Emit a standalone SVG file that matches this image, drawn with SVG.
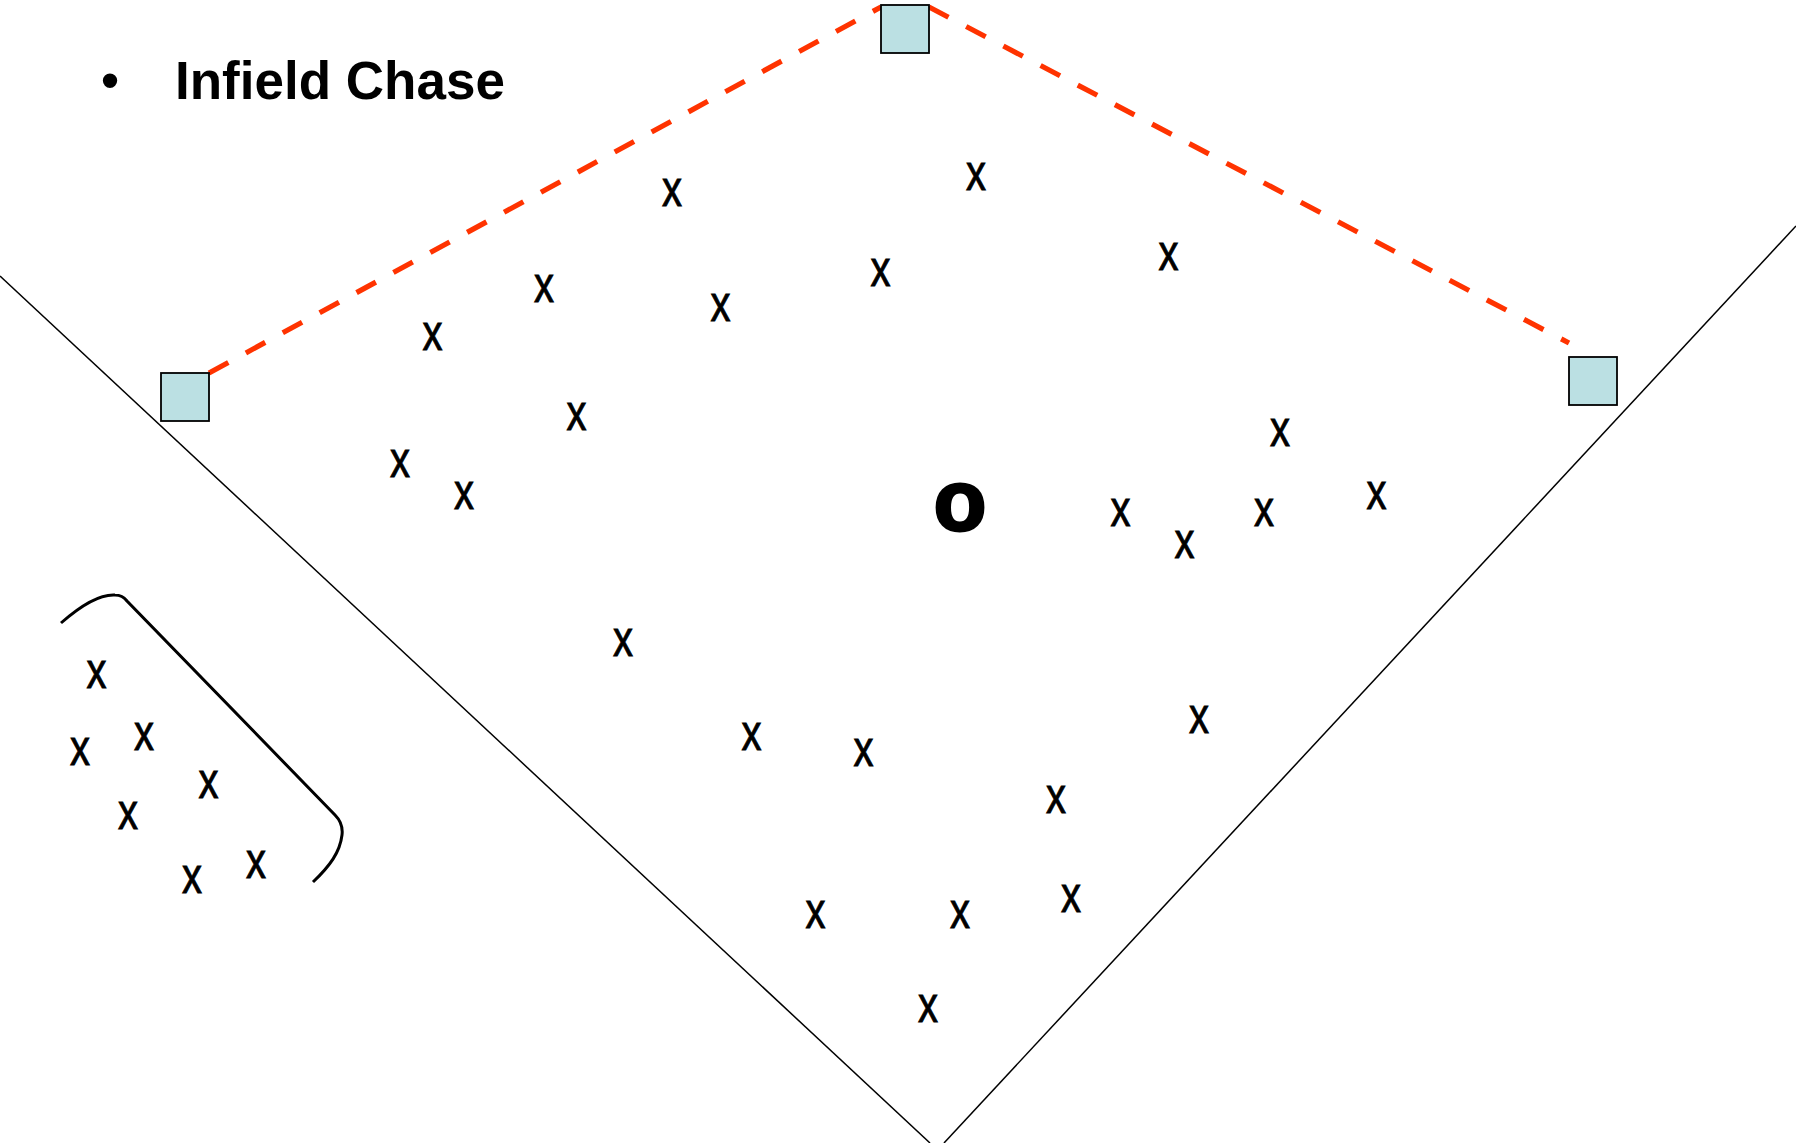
<svg xmlns="http://www.w3.org/2000/svg" width="1796" height="1143" viewBox="0 0 1796 1143">
<style>
.bg{fill:#FFFFFF}
.foul{stroke:#000000;stroke-width:1.5;fill:none}
.bracket{stroke:#000000;stroke-width:3;fill:none;stroke-linecap:butt}
.base{fill:#BBE0E3;stroke:#000000;stroke-width:1.8}
.path{stroke:#FF3300;stroke-width:5.2;fill:none;stroke-dasharray:22 20}
.x{font-family:"Liberation Sans",Arial,sans-serif;font-size:50px;fill:#000000;stroke:#000000;stroke-width:0.9;text-anchor:middle}
.o{font-family:"Liberation Sans",Arial,sans-serif;font-size:86px;font-weight:bold;fill:#000000;stroke:#000000;stroke-width:3;stroke-linejoin:round;text-anchor:middle}
.title{font-family:"Liberation Sans",Arial,sans-serif;font-size:53px;font-weight:bold;fill:#000000}
.bullet{font-family:"Liberation Sans",Arial,sans-serif;font-size:53px;fill:#000000;text-anchor:middle}
</style>
<rect class="bg" x="0" y="0" width="1796" height="1143"/>
<g id="field">
<line class="foul" x1="0" y1="276" x2="930" y2="1143"/>
<line class="foul" x1="1796" y1="226" x2="944" y2="1143"/>
<path class="bracket" d="M61,623 C78,608 98,594 115,595 C120,595 124,597 127,601 L335,815 C341,821 343,827 342,835 C340,852 330,866 313,882"/>
</g>
<g id="connectors">
<line class="path" x1="209" y1="373" x2="881" y2="7"/>
<line class="path" x1="929" y1="7" x2="1569" y2="343"/>
</g>
<g id="title">
<text class="bullet" x="110" y="99">•</text>
<text class="title" x="175" y="99">Infield Chase</text>
</g>
<g id="base-third"><rect class="base" x="161" y="373" width="48" height="48"/></g>
<g id="base-second"><rect class="base" x="881" y="5" width="48" height="48"/></g>
<g id="base-first"><rect class="base" x="1569" y="357" width="48" height="48"/></g>
<g id="runner"><text class="o" x="960" y="529.5">o</text></g>
<g id="players">
<text class="x" x="672" y="206" textLength="20" lengthAdjust="spacingAndGlyphs">x</text>
<text class="x" x="976" y="189.5" textLength="20" lengthAdjust="spacingAndGlyphs">x</text>
<text class="x" x="544" y="301.5" textLength="20" lengthAdjust="spacingAndGlyphs">x</text>
<text class="x" x="880.5" y="285.5" textLength="20" lengthAdjust="spacingAndGlyphs">x</text>
<text class="x" x="720.5" y="320.5" textLength="20" lengthAdjust="spacingAndGlyphs">x</text>
<text class="x" x="1168.5" y="269.5" textLength="20" lengthAdjust="spacingAndGlyphs">x</text>
<text class="x" x="432.5" y="349.5" textLength="20" lengthAdjust="spacingAndGlyphs">x</text>
<text class="x" x="576.5" y="430" textLength="20" lengthAdjust="spacingAndGlyphs">x</text>
<text class="x" x="400" y="477" textLength="20" lengthAdjust="spacingAndGlyphs">x</text>
<text class="x" x="464" y="509" textLength="20" lengthAdjust="spacingAndGlyphs">x</text>
<text class="x" x="1280" y="446" textLength="20" lengthAdjust="spacingAndGlyphs">x</text>
<text class="x" x="1120.5" y="525.5" textLength="20" lengthAdjust="spacingAndGlyphs">x</text>
<text class="x" x="1184.5" y="557.5" textLength="20" lengthAdjust="spacingAndGlyphs">x</text>
<text class="x" x="1264" y="525.5" textLength="20" lengthAdjust="spacingAndGlyphs">x</text>
<text class="x" x="1376.5" y="509" textLength="20" lengthAdjust="spacingAndGlyphs">x</text>
<text class="x" x="623" y="656" textLength="20" lengthAdjust="spacingAndGlyphs">x</text>
<text class="x" x="1199" y="732.5" textLength="20" lengthAdjust="spacingAndGlyphs">x</text>
<text class="x" x="751.5" y="750" textLength="20" lengthAdjust="spacingAndGlyphs">x</text>
<text class="x" x="863.5" y="766" textLength="20" lengthAdjust="spacingAndGlyphs">x</text>
<text class="x" x="1056" y="813" textLength="20" lengthAdjust="spacingAndGlyphs">x</text>
<text class="x" x="815.5" y="927.5" textLength="20" lengthAdjust="spacingAndGlyphs">x</text>
<text class="x" x="960" y="927.5" textLength="20" lengthAdjust="spacingAndGlyphs">x</text>
<text class="x" x="1071" y="911.5" textLength="20" lengthAdjust="spacingAndGlyphs">x</text>
<text class="x" x="928" y="1021.5" textLength="20" lengthAdjust="spacingAndGlyphs">x</text>
</g>
<g id="bench-players">
<text class="x" x="96.5" y="688" textLength="20" lengthAdjust="spacingAndGlyphs">x</text>
<text class="x" x="80" y="765" textLength="20" lengthAdjust="spacingAndGlyphs">x</text>
<text class="x" x="144" y="749.5" textLength="20" lengthAdjust="spacingAndGlyphs">x</text>
<text class="x" x="208.5" y="797.5" textLength="20" lengthAdjust="spacingAndGlyphs">x</text>
<text class="x" x="128" y="829" textLength="20" lengthAdjust="spacingAndGlyphs">x</text>
<text class="x" x="192" y="893" textLength="20" lengthAdjust="spacingAndGlyphs">x</text>
<text class="x" x="256" y="877.5" textLength="20" lengthAdjust="spacingAndGlyphs">x</text>
</g>
</svg>
